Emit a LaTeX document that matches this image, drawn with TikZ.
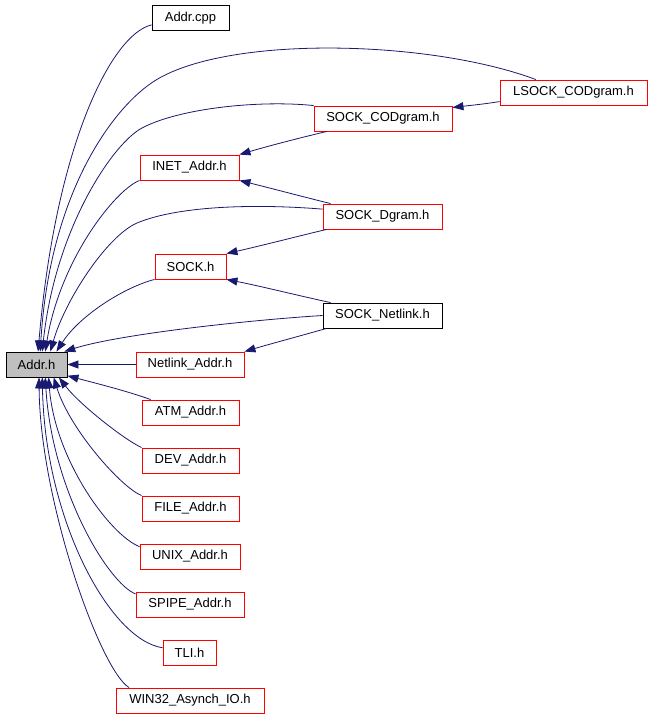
\documentclass[tikz,border=0pt]{standalone}
\usepackage{fontspec}
\setmainfont{Liberation Sans}
\usetikzlibrary{arrows.meta}

\tikzset{
  doc/.style={draw=black},
  root/.style={draw=black,fill=black!25},
  dep/.style={draw={rgb,255:red,25;green,25;blue,112},line width=.8pt,
    -{Triangle[length=11pt,width=8pt]},
    fill=none}
}

\begin{document}
\begin{tikzpicture}
  [x=1pt,y=-1pt,every node/.style={rectangle,draw=red,line width=.9pt,
   minimum height=25pt,inner sep=0pt,font=\fontsize{13}{15}\selectfont}]
  \useasboundingbox (0,0) rectangle (651,717);
  \node[root,minimum width=61pt] (addr) at (36.5,364.5) {Addr.h};
  \node[doc,minimum width=77pt] (cpp) at (190.5,18) {Addr.cpp};
  \node[minimum width=147pt] (lsock) at (573.5,92.5) {LSOCK\_CODgram.h};
  \node[minimum width=138pt] (codgram) at (383,118.5) {SOCK\_CODgram.h};
  \node[minimum width=99pt] (inet) at (189.5,167.5) {INET\_Addr.h};
  \node[minimum width=119pt] (dgram) at (382.5,216.5) {SOCK\_Dgram.h};
  \node[minimum width=71pt] (sock) at (190.5,266.5) {SOCK.h};
  \node[doc,minimum width=119pt] (netlink) at (382.5,315.5) {SOCK\_Netlink.h};
  \node[minimum width=108pt] (nladdr) at (190,364.5) {Netlink\_Addr.h};
  \node[minimum width=97pt] (atm) at (190.5,412.5) {ATM\_Addr.h};
  \node[minimum width=97pt] (dev) at (190.5,460.5) {DEV\_Addr.h};
  \node[minimum width=97pt] (file) at (190.5,508.5) {FILE\_Addr.h};
  \node[minimum width=100pt] (unix) at (190,556.5) {UNIX\_Addr.h};
  \node[minimum width=108pt] (spipe) at (190,604.5) {SPIPE\_Addr.h};
  \node[minimum width=53pt] (tli) at (189.5,652.5) {TLI.h};
  \node[minimum width=148pt] (win) at (190,700.5) {WIN32\_Asynch\_IO.h};

  % upper half
  \draw[dep] (cpp.190) .. controls (110,35) and (55,150) .. (addr.83);
  \draw[dep] (lsock.161) .. controls (430,40) and (230,35) .. (156,80)
    .. controls (115,105) and (50,190) .. (addr.74);
  \draw[dep] (lsock.187) .. controls (485,104) and (465,106) .. (codgram.9);
  \draw[dep] (codgram.north west) .. controls (260,100) and (180,108) .. (142,128)
    .. controls (112,144) and (55,230) .. (addr.66);
  \draw[dep] (codgram.193) .. controls (295,139) and (265,147) .. (inet.north east);
  \draw[dep] (inet.south west) .. controls (115,190) and (60,260) .. (addr.56);
  \draw[dep] (dgram.166) .. controls (300,196) and (270,188) .. (inet.south east);
  \draw[dep] (dgram.173) .. controls (260,204) and (180,205) .. (137,223)
    .. controls (107,236) and (65,300) .. (addr.43);
  \draw[dep] (dgram.193) .. controls (295,237) and (260,246) .. (sock.north east);
  \draw[dep] (sock.south west) .. controls (125,287) and (80,315) .. (addr.33);
  \draw[dep] (netlink.166) .. controls (300,296) and (260,286) .. (sock.south east);
  \draw[dep] (netlink.west) .. controls (250,320) and (120,334) .. (addr.25);
  \draw[dep] (netlink.193) .. controls (300,336) and (270,344) .. (nladdr.north east);
  \draw[dep] (nladdr) -- (addr);

  % lower half
\foreach \from/\to/\ca/\cb in
{atm.162/addr.-20/{127,391}/{95,383}, dev.north west/addr.-30/{125,440}/{80,405},
 file.north west/addr.-37/{122,488}/{70,430}, unix.169/addr.-47/{110,535}/{55,460},
 spipe.169/addr.-56/{108,583}/{52,490}, tli.170/addr.-66/{110,640}/{45,520},
 win.168/addr.-79/{100,670}/{40,500}}
    \draw[dep] (\from) .. controls (\ca) and (\cb) .. (\to);
\end{tikzpicture}
\end{document}
